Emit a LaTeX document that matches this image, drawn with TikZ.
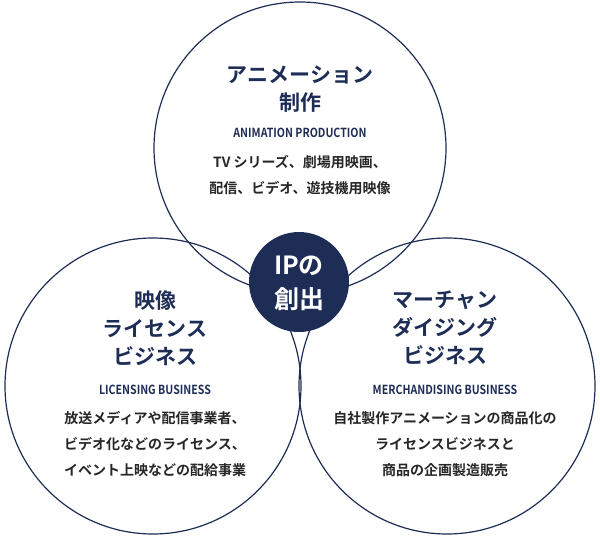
\documentclass[tikz,border=0pt]{standalone}
\usepackage{fontspec}
\setmainfont{Noto Sans CJK JP}[BoldFont={* Bold}]
\usetikzlibrary{positioning}
\definecolor{navy}{HTML}{1E2D56}
\begin{document}
\begin{tikzpicture}
                [
                    x=1pt, y=-1pt,
                    ring/.style={draw=navy, line width=1.2pt},
                    title/.style={text=navy, font=\fontsize{21}{28}\selectfont\bfseries, align=center},
                    subtitle/.style={text=navy, font=\fontsize{12.5}{14}\selectfont\bfseries, xscale=0.85},
                    body/.style={text=black!85, font=\fontsize{14}{26}\selectfont\bfseries, align=center}
                ]
                \useasboundingbox (0,0) rectangle (600,536);
                \draw [ring] (300,148) circle (146);
                \draw [ring] (153,386) circle (148);
                \draw [ring] (447,386) circle (148);
                \fill [navy] (299,282) circle (50);

                % top
                \node (anime title) [title] at (300,89) {アニメーション\\制作};
                \node (anime sub) [subtitle] at (300,133) {ANIMATION PRODUCTION};
                \node (anime body) [body] at (300,175) {TV シリーズ、劇場用映画、\\配信、ビデオ、遊技機用映像};

                % center
                \node (ip) [title, text=white, font=\fontsize{25}{34}\selectfont\bfseries]
                    at (299,283) {IPの\\創出};

                % left
                \node (lic title) [title] at (155,328) {映像\\ライセンス\\ビジネス};
                \node (lic sub) [subtitle] at (155,390) {LICENSING BUSINESS};
                \node (lic body) [body] at (155,444) {放送メディアや配信事業者、\\ビデオ化などのライセンス、\\イベント上映などの配給事業};

                % right
                \node (mer title) [title] at (445,328) {マーチャン\\ダイジング\\ビジネス};
                \node (mer sub) [subtitle] at (445,390) {MERCHANDISING BUSINESS};
                \node (mer body) [body] at (445,444) {自社製作アニメーションの商品化の\\ライセンスビジネスと\\商品の企画製造販売};
\end{tikzpicture}
\end{document}
